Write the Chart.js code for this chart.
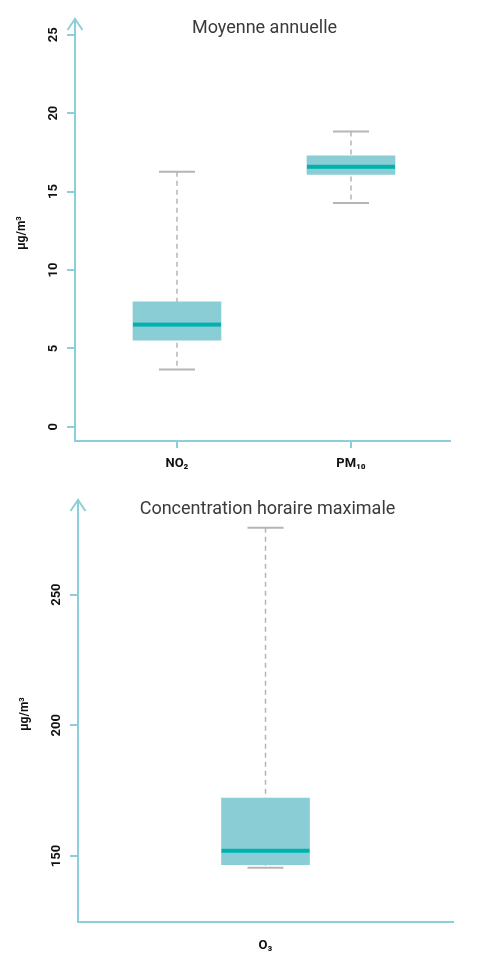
<!DOCTYPE html>
<html>
<head>
<meta charset="utf-8">
<script src="https://cdn.jsdelivr.net/npm/chart.js@4.4.1/dist/chart.umd.min.js"></script>
<style>
  body { margin:0; background:#fff; }
  canvas { display:block; }
</style>
</head>
<body>
<canvas id="annuel" width="480" height="475"></canvas>
<canvas id="horaire" width="480" height="478"></canvas>
<script>
// Moyenne annuelle
const catAnnuel = ['NO₂', 'PM₁₀'];
const minAnnuel = [3.65, 14.27];
const q1Annuel = [5.53, 16.09];
const medAnnuel = [6.52, 16.58];
const q3Annuel = [7.97, 17.28];
const maxAnnuel = [16.26, 18.83];
const ticksAnnuel = [0, 5, 10, 15, 20, 25];

// Concentration horaire maximale
const catHoraire = ['O₃'];
const minHoraire = [145.5];
const q1Horaire = [146.7];
const medHoraire = [152.0];
const q3Horaire = [172.2];
const maxHoraire = [275.6];
const ticksHoraire = [150, 200, 250];

const AXIS = '#8ccfdb';
const BOX = '#8bcdd4';
const MED = '#00b1b0';
const WHISK = '#b5b5b5';

const boxPlugin = {
  id: 'boxWhiskers',
  beforeDatasetsDraw(chart, args, o) {
    const ctx = chart.ctx, y = chart.scales.y;
    chart.getDatasetMeta(0).data.forEach((bar, i) => {
      const top = y.getPixelForValue(o.max[i]), bot = y.getPixelForValue(o.min[i]);
      ctx.save();
      ctx.strokeStyle = WHISK;
      ctx.lineWidth = 1.5;
      ctx.setLineDash([5, 4]);
      ctx.beginPath(); ctx.moveTo(bar.x, top); ctx.lineTo(bar.x, bot); ctx.stroke();
      ctx.setLineDash([]);
      ctx.lineWidth = 2;
      ctx.beginPath();
      ctx.moveTo(bar.x - 18, top); ctx.lineTo(bar.x + 18, top);
      ctx.moveTo(bar.x - 18, bot); ctx.lineTo(bar.x + 18, bot);
      ctx.stroke();
      ctx.restore();
    });
  },
  afterDatasetsDraw(chart, args, o) {
    const ctx = chart.ctx, y = chart.scales.y;
    chart.getDatasetMeta(0).data.forEach((bar, i) => {
      const m = y.getPixelForValue(o.median[i]);
      ctx.save();
      ctx.fillStyle = MED;
      ctx.fillRect(bar.x - bar.width / 2, m - 2, bar.width, 4);
      ctx.restore();
    });
  },
  afterDraw(chart, args, o) {
    const ctx = chart.ctx, a = chart.chartArea, y = chart.scales.y;
    ctx.save();
    // fleche en haut de l'axe
    ctx.strokeStyle = AXIS; ctx.lineWidth = 2;
    ctx.beginPath();
    ctx.moveTo(a.left - 7.5, a.top + 11); ctx.lineTo(a.left, a.top); ctx.lineTo(a.left + 7.5, a.top + 11);
    ctx.stroke();
    // etiquettes verticales
    ctx.fillStyle = '#111';
    ctx.font = 'bold 13px Roboto';
    ctx.textAlign = 'center'; ctx.textBaseline = 'middle';
    y.ticks.forEach(t => {
      ctx.save();
      ctx.translate(a.left - 21, y.getPixelForValue(t.value));
      ctx.rotate(-Math.PI / 2);
      ctx.fillText(String(t.value), 0, 0);
      ctx.restore();
    });
    ctx.save();
    ctx.font = 'bold 12px Roboto';
    ctx.translate(a.left - 53, (a.top + a.bottom) / 2 + 3);
    ctx.rotate(-Math.PI / 2);
    ctx.fillText('µg/m³', 0, 0);
    ctx.restore();
    // titre
    ctx.fillStyle = '#3a3a3a';
    ctx.font = '18px Roboto';
    ctx.fillText(o.title, (a.left + a.right) / 2 + 2, a.top + 9);
    ctx.restore();
  }
};

function makeBoxChart(id, labels, q1, q3, stats, ticks, yMin, yMax, xMin, xMax, pad, leftW, bottomH, showXTick) {
  return new Chart(document.getElementById(id), {
    type: 'bar',
    data: {
      datasets: [{ data: q1.map((v, i) => ({ x: i + 1, y: [v, q3[i]] })), backgroundColor: BOX, borderWidth: 0, barThickness: 88 }]
    },
    options: {
      responsive: false, animation: false, devicePixelRatio: 1,
      layout: { padding: pad },
      plugins: { legend: { display: false }, tooltip: { enabled: false }, boxWhiskers: stats },
      scales: {
        x: {
          type: 'linear', min: xMin, max: xMax, offset: false,
          afterBuildTicks: s => { s.ticks = labels.map((l, i) => ({ value: i + 1 })); },
          afterFit: s => { s.height = bottomH; },
          grid: { offset: false, drawOnChartArea: false, color: showXTick ? AXIS : 'rgba(0,0,0,0)', tickLength: 7, lineWidth: 2 },
          border: { color: AXIS, width: 2 },
          ticks: {
            callback: v => labels[v - 1],
            color: '#111', font: { family: 'Roboto', weight: 'bold', size: 13 }, padding: showXTick ? 8 : 9
          }
        },
        y: {
          min: yMin, max: yMax,
          afterBuildTicks: s => { s.ticks = ticks.map(v => ({ value: v })); },
          afterFit: s => { s.width = leftW; },
          ticks: { display: false },
          grid: { drawOnChartArea: false, color: AXIS, tickLength: 8, lineWidth: 2 },
          border: { color: AXIS, width: 2 }
        }
      }
    },
    plugins: [boxPlugin]
  });
}

makeBoxChart('annuel', catAnnuel, q1Annuel, q3Annuel,
  { title: 'Moyenne annuelle', min: minAnnuel, median: medAnnuel, max: maxAnnuel },
  ticksAnnuel, -0.9, 26, 0.414, 2.569, { top: 19, right: 30, left: 0, bottom: 0 }, 75, 34, true);

makeBoxChart('horaire', catHoraire, q1Horaire, q3Horaire,
  { title: 'Concentration horaire maximale', min: minHoraire, median: medHoraire, max: maxHoraire },
  ticksHoraire, 124.75, 286.2, 0.5, 1.5, { top: 25, right: 27, left: 0, bottom: 0 }, 78, 31, false);
</script>
</body>
</html>
